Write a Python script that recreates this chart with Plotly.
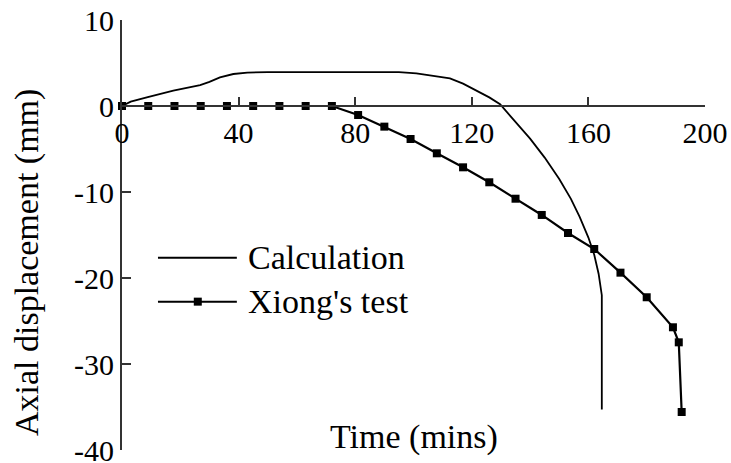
import plotly.graph_objects as go

# Calculated axial displacement history
calc_time = [0, 3, 8.5, 17.6, 26.8, 30, 33.6, 38.2, 43, 50, 65, 80, 95, 101, 107, 112.5, 117, 122, 126,
             129.7, 135, 140, 145, 150, 154, 157, 160, 162, 163.5, 164.3, 164.6, 164.6]
calc_disp = [0, 0.5, 1.0, 1.78, 2.44, 2.8, 3.33, 3.72, 3.88, 3.95, 3.95, 3.95, 3.95, 3.8, 3.5, 3.2, 2.6, 1.7, 1.0,
             0.2, -1.8, -3.8, -6.0, -8.5, -10.8, -12.9, -15.3, -17.3, -19.5, -21.0, -22.0, -35.3]

# Xiong's test measurements
test_time = [0, 9, 18, 27, 36, 45, 54, 63, 72, 81, 90, 99, 108, 117, 126, 135, 144, 153, 162, 171, 180, 189, 191, 192]
test_disp = [0, 0, 0, 0, 0, 0, 0, 0, 0, -1.05, -2.4, -3.84, -5.5, -7.13, -8.87, -10.78, -12.67, -14.77, -16.63,
             -19.38, -22.24, -25.73, -27.48, -35.58]

x_ticks = [0, 40, 80, 120, 160, 200]
x_tick_text = ["0", "40", "80", "120", "160", "200"]
y_ticks = [10, 0, -10, -20, -30, -40]
y_tick_text = ["10", "0", "-10", "-20", "-30", "-40"]

series_names = ["Calculation", "Xiong's test"]

FONT = "Liberation Serif, Times New Roman, serif"
AXIS_COLOR = "#333333"

fig = go.Figure()
fig.add_trace(go.Scatter(x=calc_time, y=calc_disp, mode="lines", name=series_names[0],
                         line=dict(color="black", width=1.8), cliponaxis=False, showlegend=False))
fig.add_trace(go.Scatter(x=test_time, y=test_disp, mode="lines+markers", name=series_names[1],
                         line=dict(color="black", width=2.2),
                         marker=dict(symbol="square", size=8, color="black"),
                         cliponaxis=False, showlegend=False))

fig.update_layout(
    width=731, height=463,
    margin=dict(l=122, r=26, t=20, b=13),
    paper_bgcolor="white", plot_bgcolor="white",
    font=dict(family=FONT, color="black"),
    xaxis=dict(range=[0, 200], tickvals=x_ticks, ticktext=x_tick_text,
               anchor="free", position=0.8, automargin=False,
               showline=True, linecolor=AXIS_COLOR, linewidth=2,
               ticks="inside", ticklen=8, tickwidth=2, tickcolor=AXIS_COLOR,
               ticklabeloverflow="allow",
               showgrid=False, zeroline=False, tickfont=dict(size=30, family=FONT)),
    yaxis=dict(range=[-40, 10], tickvals=y_ticks, ticktext=y_tick_text, automargin=False,
               showline=True, linecolor=AXIS_COLOR, linewidth=2,
               ticks="inside", ticklen=9, tickwidth=2, tickcolor=AXIS_COLOR,
               ticklabeloverflow="allow",
               showgrid=False, zeroline=False, tickfont=dict(size=30, family=FONT)),
)

# Axis titles
fig.add_annotation(text="Time (mins)", xref="paper", yref="paper", x=0.501, y=0.03,
                   xanchor="center", yanchor="middle", showarrow=False,
                   font=dict(size=34, family=FONT, color="black"))
fig.add_annotation(text="Axial displacement (mm)", xref="paper", yref="paper", x=-0.163, y=0.437,
                   xanchor="center", yanchor="middle", textangle=-90, showarrow=False,
                   font=dict(size=34, family=FONT, color="black"))

# Legend drawn inside the plot area
legend_rows = [0.447, 0.345]
for i, (name, ly) in enumerate(zip(series_names, legend_rows)):
    fig.add_shape(type="line", xref="paper", yref="paper", x0=0.0617, x1=0.197, y0=ly, y1=ly,
                  line=dict(color="black", width=2))
    if i == 1:
        fig.add_shape(type="rect", xref="paper", yref="paper",
                      xsizemode="pixel", ysizemode="pixel", xanchor=0.13, yanchor=ly,
                      x0=-4, x1=4, y0=-4, y1=4, fillcolor="black", line=dict(width=0))
    fig.add_annotation(text=name, xref="paper", yref="paper", x=0.2127, y=ly,
                       xanchor="left", yanchor="middle", showarrow=False,
                       font=dict(size=34, family=FONT, color="black"))

fig.write_html("out.html")
